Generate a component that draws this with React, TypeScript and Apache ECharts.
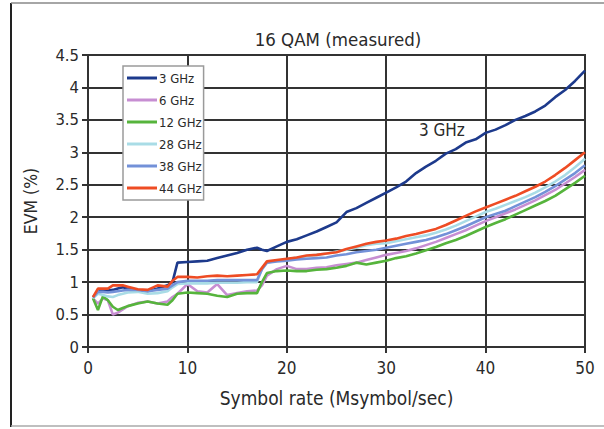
import React, { useEffect, useRef } from "react";
import * as echarts from "echarts";

const symbolRates = [0.5, 1, 1.5, 2, 2.5, 3, 3.5, 4, 5, 6, 7, 8, 8.5, 9, 10, 11, 12, 13, 14, 15, 16, 17, 17.5, 18, 19, 20, 21, 22, 23, 24, 25, 26, 27, 28, 29, 30, 31, 32, 33, 34, 35, 36, 37, 38, 39, 40, 41, 42, 43, 44, 45, 46, 47, 48, 49, 50];

const evm3 = [0.77, 0.85, 0.88, 0.87, 0.88, 0.9, 0.92, 0.9, 0.87, 0.86, 0.9, 0.95, 1.0, 1.3, 1.31, 1.32, 1.33, 1.37, 1.41, 1.45, 1.5, 1.53, 1.5, 1.48, 1.55, 1.62, 1.66, 1.72, 1.78, 1.85, 1.92, 2.08, 2.14, 2.22, 2.3, 2.38, 2.46, 2.55, 2.68, 2.78, 2.87, 2.98, 3.05, 3.15, 3.2, 3.3, 3.35, 3.42, 3.5, 3.56, 3.63, 3.72, 3.85, 3.96, 4.1, 4.26];
const evm6 = [0.75, 0.67, 0.75, 0.72, 0.5, 0.53, 0.58, 0.63, 0.68, 0.7, 0.67, 0.7, 0.77, 0.82, 0.97, 0.86, 0.84, 0.97, 0.8, 0.83, 0.86, 0.87, 0.95, 1.1, 1.2, 1.25, 1.2, 1.2, 1.22, 1.23, 1.26, 1.28, 1.3, 1.34, 1.38, 1.42, 1.45, 1.48, 1.52, 1.57, 1.62, 1.68, 1.74, 1.8, 1.87, 1.94, 2.0, 2.06, 2.12, 2.19, 2.26, 2.34, 2.42, 2.52, 2.62, 2.73];
const evm12 = [0.75, 0.57, 0.78, 0.72, 0.62, 0.57, 0.6, 0.63, 0.67, 0.7, 0.67, 0.65, 0.72, 0.82, 0.84, 0.83, 0.82, 0.79, 0.77, 0.82, 0.83, 0.83, 1.0, 1.14, 1.17, 1.18, 1.17, 1.17, 1.19, 1.2, 1.22, 1.25, 1.3, 1.27, 1.3, 1.33, 1.37, 1.4, 1.44, 1.49, 1.54, 1.6, 1.65, 1.71, 1.78, 1.85, 1.91, 1.97, 2.04, 2.11, 2.18, 2.25, 2.33, 2.43, 2.53, 2.64];
const evm28 = [0.75, 0.82, 0.8, 0.78, 0.77, 0.8, 0.82, 0.84, 0.85, 0.82, 0.83, 0.86, 0.92, 0.97, 0.98, 0.98, 0.98, 0.99, 0.99, 0.99, 1.0, 1.0, 1.2, 1.3, 1.33, 1.35, 1.38, 1.4, 1.42, 1.44, 1.47, 1.5, 1.53, 1.57, 1.59, 1.6, 1.63, 1.66, 1.69, 1.72, 1.76, 1.81, 1.87, 1.94, 2.01, 2.08, 2.13, 2.19, 2.25, 2.31, 2.38, 2.46, 2.55, 2.65, 2.77, 2.9];
const evm38 = [0.76, 0.85, 0.85, 0.84, 0.85, 0.86, 0.87, 0.88, 0.88, 0.86, 0.88, 0.9, 0.95, 1.0, 1.02, 1.02, 1.02, 1.03, 1.03, 1.03, 1.03, 1.03, 1.2, 1.3, 1.32, 1.33, 1.35, 1.36, 1.37, 1.38, 1.41, 1.43, 1.46, 1.48, 1.5, 1.53, 1.56, 1.59, 1.62, 1.65, 1.69, 1.74, 1.8, 1.86, 1.93, 2.0, 2.05, 2.1, 2.17, 2.24, 2.31, 2.39, 2.48, 2.58, 2.68, 2.8];
const evm44 = [0.77, 0.9, 0.9, 0.9, 0.95, 0.95, 0.95, 0.93, 0.89, 0.88, 0.95, 0.93, 1.02, 1.08, 1.08, 1.07, 1.09, 1.1, 1.09, 1.1, 1.11, 1.12, 1.22, 1.32, 1.34, 1.36, 1.38, 1.41, 1.42, 1.44, 1.46, 1.51, 1.55, 1.59, 1.62, 1.64, 1.67, 1.71, 1.74, 1.78, 1.82, 1.88, 1.95, 2.02, 2.09, 2.15, 2.21, 2.27, 2.33, 2.4, 2.47, 2.55, 2.65, 2.76, 2.88, 3.0];

const seriesNames = ["3 GHz", "6 GHz", "12 GHz", "28 GHz", "38 GHz", "44 GHz"];
const seriesValues = [evm3, evm6, evm12, evm28, evm38, evm44];
const seriesColors = ["#1d3a8c", "#c78ed2", "#56b43c", "#a9dce6", "#7391d8", "#ee4c24"];

const FONT = "'Liberation Sans Narrow', 'DejaVu Sans Condensed', 'Roboto', sans-serif";
const TXT = "#2a2a2a";

export default function App() {
  const ref = useRef<HTMLDivElement>(null);
  useEffect(() => {
    if (!ref.current) return;
    const chart = echarts.init(ref.current, undefined, { renderer: "svg" });
    const series: any[] = seriesNames.map((name, i) => ({
      name,
      type: "line",
      showSymbol: false,
      symbol: "none",
      smooth: false,
      lineStyle: { color: seriesColors[i], width: 2.6 },
      itemStyle: { color: seriesColors[i] },
      data: symbolRates.map((x, j) => [x, seriesValues[i][j]]),
      z: 3 + i,
    }));
    series[0].markPoint = {
      symbol: "circle",
      symbolSize: 0,
      data: [{ coord: [35.6, 3.35], value: "3 GHz" }],
      label: {
        show: true,
        position: "inside",
        formatter: "3 GHz",
        color: TXT,
        fontSize: 17,
        fontFamily: FONT,
      },
    };
    chart.setOption({
      animation: false,
      backgroundColor: "#ffffff",
      title: {
        text: "16 QAM (measured)",
        left: 333,
        textAlign: "center",
        top: 25,
        textStyle: { color: TXT, fontSize: 18.5, fontWeight: "normal", fontFamily: FONT },
      },
      legend: {
        orient: "vertical",
        left: 123,
        top: 66,
        data: seriesNames,
        icon: "rect",
        itemWidth: 30,
        itemHeight: 3,
        itemGap: 6,
        backgroundColor: "#ffffff",
        borderColor: "#9a9a9a",
        borderWidth: 1.5,
        borderRadius: 0,
        padding: [4, 2, 4, 4],
        textStyle: { color: TXT, fontSize: 13, fontFamily: FONT, lineHeight: 16, padding: [0, 0, 0, -3] },
      },
      grid: {
        left: 88,
        right: 19,
        top: 55,
        bottom: 82,
        show: true,
        borderColor: "#333333",
        borderWidth: 2,
        backgroundColor: "transparent",
      },
      xAxis: {
        type: "value",
        min: 0,
        max: 50,
        interval: 10,
        name: "Symbol rate (Msymbol/sec)",
        nameLocation: "middle",
        nameGap: 41,
        nameTextStyle: { color: TXT, fontSize: 19, fontFamily: FONT },
        axisLine: { show: true, lineStyle: { color: "#333333", width: 2 } },
        axisTick: { show: true, length: 6, lineStyle: { color: "#333333", width: 2 } },
        axisLabel: { color: TXT, fontSize: 17, fontFamily: FONT, margin: 12 },
        splitLine: { show: true, lineStyle: { color: "#333333", width: 2 } },
      },
      yAxis: {
        type: "value",
        min: 0,
        max: 4.5,
        interval: 0.5,
        name: "EVM (%)",
        nameLocation: "middle",
        nameGap: 48,
        nameRotate: 90,
        nameTextStyle: { color: TXT, fontSize: 17.5, fontFamily: FONT },
        axisLine: { show: true, lineStyle: { color: "#333333", width: 2 } },
        axisTick: { show: true, length: 6, lineStyle: { color: "#333333", width: 2 } },
        axisLabel: { color: TXT, fontSize: 16.5, fontFamily: FONT, margin: 9 },
        splitLine: { show: true, lineStyle: { color: "#333333", width: 2 } },
      },
      graphic: [
        { type: "line", shape: { x1: 11, y1: 3, x2: 11, y2: 427 }, style: { stroke: "#222222", lineWidth: 2 } },
        { type: "line", shape: { x1: 11, y1: 3, x2: 604, y2: 3 }, style: { stroke: "#888888", lineWidth: 1.5 } },
        { type: "line", shape: { x1: 11, y1: 426, x2: 604, y2: 426 }, style: { stroke: "#aaaaaa", lineWidth: 1.5 } },
      ],
      series,
    });
    return () => chart.dispose();
  }, []);
  return (
    <div
      ref={ref}
      style={{ position: "fixed", left: 0, top: 0, width: 604, height: 429 }}
    />
  );
}
